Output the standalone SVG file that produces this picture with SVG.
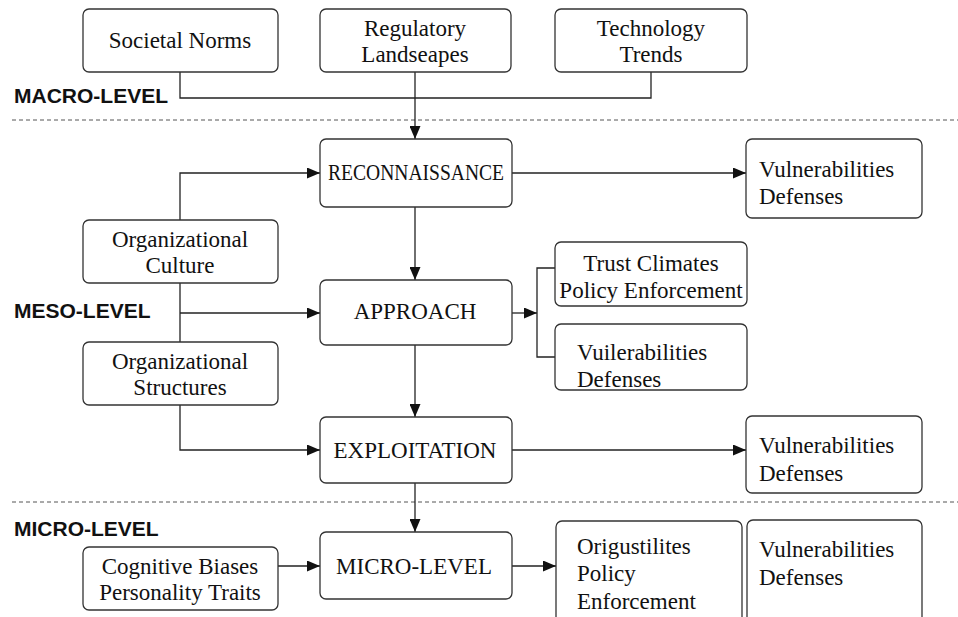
<svg xmlns="http://www.w3.org/2000/svg" width="958" height="617" viewBox="0 0 958 617">
<defs>
<marker id="arr" markerUnits="userSpaceOnUse" markerWidth="13" markerHeight="11" refX="13" refY="5.5" orient="auto">
<path d="M0,0 L13,5.5 L0,11 z" fill="#111"/>
</marker>
<style>
.box{fill:#fff;stroke:#333;stroke-width:1.3}
.t{font-family:"Liberation Serif","Times New Roman",serif;font-size:23px;fill:#111}
.c{text-anchor:middle}
.lvl{font-family:"Liberation Sans",Arial,sans-serif;font-size:21px;font-weight:bold;fill:#111}
.ln{fill:none;stroke:#222;stroke-width:1.3}
.dash{stroke:#555;stroke-width:1;stroke-dasharray:4 3}
</style>
</defs>
<rect width="958" height="617" fill="#fff"/>
<line class="dash" x1="12" y1="120" x2="958" y2="120"/>
<line class="dash" x1="12" y1="502" x2="958" y2="502"/>
<text class="lvl" x="14" y="103">MACRO-LEVEL</text>
<text class="lvl" x="14" y="318">MESO-LEVEL</text>
<text class="lvl" x="14" y="536">MICRO-LEVEL</text>
<g id="connectors">
<path class="ln" d="M180 72 V98 H651 V72"/>
<path class="ln" d="M415 72 V139" marker-end="url(#arr)"/>
<path class="ln" d="M512 173 H746" marker-end="url(#arr)"/>
<path class="ln" d="M180 220 V173 H320" marker-end="url(#arr)"/>
<path class="ln" d="M415 207 V280" marker-end="url(#arr)"/>
<path class="ln" d="M180 283 V342"/>
<path class="ln" d="M180 313 H320" marker-end="url(#arr)"/>
<path class="ln" d="M512 313 H537" marker-end="url(#arr)"/>
<path class="ln" d="M555 268 H537 V357 H555"/>
<path class="ln" d="M415 345 V417" marker-end="url(#arr)"/>
<path class="ln" d="M180 405 V450 H320" marker-end="url(#arr)"/>
<path class="ln" d="M512 450 H746" marker-end="url(#arr)"/>
<path class="ln" d="M415 483 V532" marker-end="url(#arr)"/>
<path class="ln" d="M278 566 H320" marker-end="url(#arr)"/>
<path class="ln" d="M512 566 H556" marker-end="url(#arr)"/>
</g>
<g id="societal-norms"><rect class="box" x="83" y="9" width="195" height="63" rx="6"/><text class="t c" x="180" y="48">Societal Norms</text></g>
<g id="regulatory"><rect class="box" x="320" y="9" width="191" height="63" rx="6"/><text class="t c" x="415" y="36">Regulatory</text><text class="t c" x="415" y="62">Landseapes</text></g>
<g id="technology"><rect class="box" x="555" y="9" width="192" height="63" rx="6"/><text class="t c" x="651" y="36">Technology</text><text class="t c" x="651" y="62">Trends</text></g>
<g id="reconnaissance"><rect class="box" x="320" y="139" width="192" height="68" rx="6"/><text class="t" x="328" y="180" textLength="176" lengthAdjust="spacingAndGlyphs">RECONNAISSANCE</text></g>
<g id="vuln1"><rect class="box" x="746" y="139" width="176" height="79" rx="6"/><text class="t" x="759" y="177">Vulnerabilities</text><text class="t" x="759" y="204">Defenses</text></g>
<g id="org-culture"><rect class="box" x="83" y="220" width="195" height="63" rx="6"/><text class="t c" x="180" y="247">Organizational</text><text class="t c" x="180" y="273">Culture</text></g>
<g id="approach"><rect class="box" x="320" y="280" width="192" height="65" rx="6"/><text class="t c" x="415" y="319">APPROACH</text></g>
<g id="trust-climates"><rect class="box" x="555" y="242" width="192" height="64" rx="6"/><text class="t c" x="651" y="271">Trust Climates</text><text class="t c" x="651" y="298">Policy Enforcement</text></g>
<g id="org-structures"><rect class="box" x="83" y="342" width="195" height="63" rx="6"/><text class="t c" x="180" y="369">Organizational</text><text class="t c" x="180" y="395">Structures</text></g>
<g id="vuil"><rect class="box" x="555" y="324" width="192" height="66" rx="6"/><text class="t" x="577" y="360">Vuilerabilities</text><text class="t" x="577" y="387">Defenses</text></g>
<g id="exploitation"><rect class="box" x="320" y="417" width="192" height="66" rx="6"/><text class="t c" x="415" y="458">EXPLOITATION</text></g>
<g id="vuln3"><rect class="box" x="746" y="416" width="176" height="77" rx="6"/><text class="t" x="759" y="453">Vulnerabilities</text><text class="t" x="759" y="481">Defenses</text></g>
<g id="cognitive"><rect class="box" x="83" y="547" width="195" height="63" rx="6"/><text class="t c" x="180" y="574">Cognitive Biases</text><text class="t c" x="180" y="600">Personality Traits</text></g>
<g id="micro-level"><rect class="box" x="320" y="532" width="192" height="67" rx="6"/><text class="t c" x="414" y="574">MICRO-LEVEL</text></g>
<g id="origustilites"><rect class="box" x="556" y="521" width="186" height="110" rx="6"/><text class="t" x="577" y="554">Origustilites</text><text class="t" x="577" y="581">Policy</text><text class="t" x="577" y="609">Enforcement</text></g>
<g id="vuln4"><rect class="box" x="747" y="520" width="175" height="111" rx="6"/><text class="t" x="759" y="557">Vulnerabilities</text><text class="t" x="759" y="585">Defenses</text></g>
</svg>
